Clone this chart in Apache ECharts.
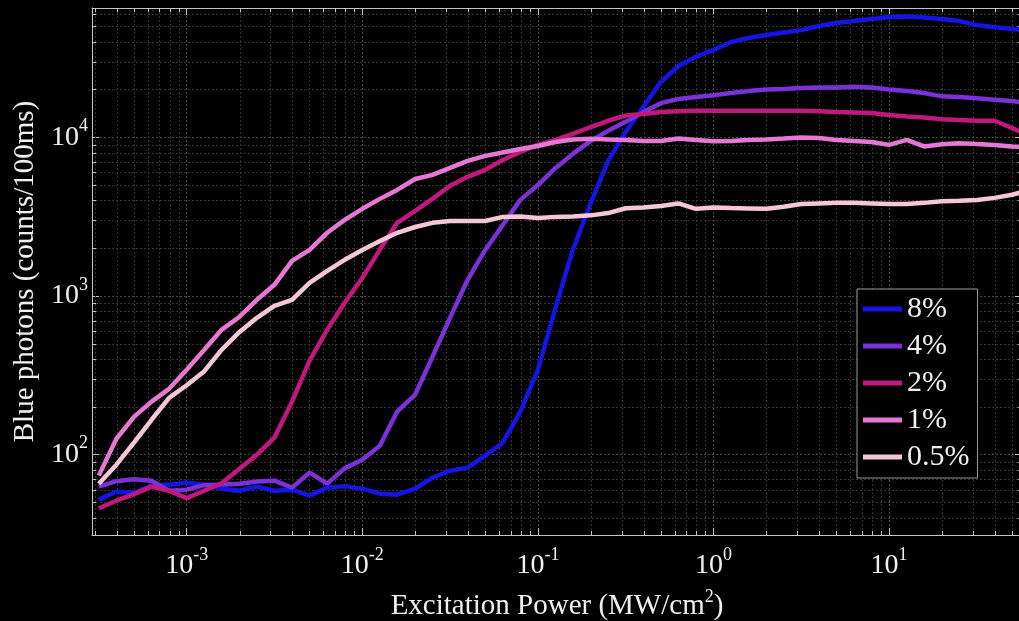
<!DOCTYPE html>
<html>
<head>
<meta charset="utf-8">
<title>Blue photons vs excitation power</title>
<script src="https://cdn.jsdelivr.net/npm/echarts@6/dist/echarts.min.js"></script>
<style>
html, body { margin: 0; padding: 0; background: #000; }
#chart { width: 1019px; height: 621px; }
</style>
</head>
<body>
<div id="chart"></div>
<script>
// excitation power (MW/cm2), shared by all curves
var power = [3.16e-4, 3.98e-4, 5.01e-4, 6.31e-4, 7.94e-4, 1.0e-3, 1.26e-3, 1.58e-3, 2.0e-3, 2.51e-3,
  3.16e-3, 3.98e-3, 5.01e-3, 6.31e-3, 7.94e-3, 1.0e-2, 1.26e-2, 1.58e-2, 2.0e-2, 2.51e-2,
  3.16e-2, 3.98e-2, 5.01e-2, 6.31e-2, 7.94e-2, 0.1, 0.126, 0.158, 0.2, 0.251,
  0.316, 0.398, 0.501, 0.631, 0.794, 1.0, 1.26, 1.58, 2.0, 2.51,
  3.16, 3.98, 5.01, 6.31, 7.94, 10, 12.6, 15.8, 20, 25.1,
  31.6, 39.8, 50.1, 63.1];

// blue photons (counts/100ms)
var p8 = [52.1, 58.5, 57.7, 63.8, 64.8, 66.6, 64.8, 61.1, 59.3, 62.9,
  59.3, 60.2, 55.2, 62.0, 63.4, 61.1, 56.8, 56.0, 61.1, 71.6,
  79.3, 82.9, 98.6, 119, 186, 343, 842, 1950, 3850, 7100,
  10800, 15500, 22300, 28100, 32100, 35500, 39800, 42200, 44100, 45700,
  47300, 50200, 52500, 54000, 55600, 57200, 57600, 56800, 55600, 54000,
  50900, 49400, 48100, 46600];
var p4 = [62.9, 68.1, 70.1, 68.6, 59.3, 60.2, 64.3, 64.8, 65.7, 67.9,
  68.6, 62.0, 77.1, 65.7, 82, 93.0, 114, 187, 239, 414,
  728, 1265, 1950, 2800, 4030, 5000, 6410, 7850, 9490, 10970,
  12500, 14400, 16400, 17400, 17900, 18400, 19000, 19550, 20000, 20150,
  20430, 20600, 20600, 20800, 20600, 20000, 19550, 19000, 18100, 17900,
  17600, 17250, 16900, 16400];
var p2 = [46.0, 51.3, 56.4, 62.9, 59.3, 53.3, 59.3, 66.1, 81.6, 100,
  128, 216, 391, 612, 906, 1300, 1960, 2890, 3440, 4090,
  4940, 5630, 6230, 7190, 8080, 8950, 9620, 10500, 11600, 12700,
  13700, 14000, 14400, 14600, 14700, 14700, 14700, 14700, 14700, 14700,
  14700, 14600, 14400, 14300, 14200, 13800, 13500, 13300, 13000, 12850,
  12700, 12700, 11440, 10200];
var p1 = [73.8, 126, 173, 216, 260, 343, 458, 612, 740, 946,
  1176, 1665, 1950, 2500, 3015, 3540, 4090, 4660, 5460, 5790,
  6410, 7100, 7630, 8020, 8430, 8810, 9340, 9680, 9770, 9680,
  9620, 9480, 9480, 9820, 9620, 9420, 9480, 9620, 9680, 9820,
  9980, 9900, 9620, 9480, 9340, 8950, 9620, 8750, 9020, 9150,
  9080, 8950, 8750, 8630];
var p05 = [65.7, 86.5, 119, 166, 228, 274, 336, 458, 594, 728,
  867, 946, 1210, 1440, 1690, 1950, 2220, 2500, 2720, 2890,
  2970, 2970, 2970, 3150, 3170, 3100, 3150, 3170, 3220, 3330,
  3570, 3610, 3690, 3830, 3540, 3610, 3580, 3560, 3540, 3650,
  3800, 3830, 3860, 3860, 3830, 3800, 3800, 3860, 3950, 3980,
  4030, 4150, 4340, 4660];

var names = ['8%', '4%', '2%', '1%', '0.5%'];
var values = [p8, p4, p2, p1, p05];
var colors = ['#1414e4', '#7b30d8', '#c0187c', '#e678d4', '#f6c6d8'];

var xMin = 2.89e-4, xMax = 57.1;
var yMin = 31.2, yMax = 65200;

var FONT = '"Liberation Serif", "Times New Roman", serif';
var TXT = '#f0f0f0';
var AXIS = '#c4c4c4';

// 2..9 x 10^n positions inside a range, for minor grid and ticks
function minorValues(lo, hi) {
  var out = [];
  for (var d = Math.floor(Math.log10(lo)); d <= Math.ceil(Math.log10(hi)); d++) {
    for (var k = 2; k <= 9; k++) {
      var v = k * Math.pow(10, d);
      if (v > lo && v < hi) out.push(v);
    }
  }
  return out;
}
var minorX = minorValues(xMin, xMax);
var minorY = minorValues(yMin, yMax);

function powLabel(v) {
  var e = Math.round(Math.log10(v));
  return '{b|10}{s|' + e + '}';
}
var labelRich = {
  b: { fontSize: 28, lineHeight: 40, fontFamily: FONT, color: TXT },
  s: { fontSize: 18, lineHeight: 18, verticalAlign: 'top', fontFamily: FONT, color: TXT }
};

function crisp(v) { return Math.round(v) + 0.5; }

var series = [];
series.push({
  type: 'custom', silent: true, z: 1, animation: false,
  data: minorX.map(function (v) { return [v, yMin]; }),
  renderItem: function (params, api) {
    var cs = params.coordSys;
    var x = crisp(api.coord([api.value(0), yMin])[0]);
    var t = cs.y, b = cs.y + cs.height;
    return { type: 'group', children: [
      { type: 'line', shape: { x1: x, y1: t, x2: x, y2: b }, style: { stroke: '#343434', lineWidth: 1, lineDash: [2, 2] } },
      { type: 'line', shape: { x1: x, y1: b, x2: x, y2: b - 4 }, style: { stroke: AXIS, lineWidth: 1 } },
      { type: 'line', shape: { x1: x, y1: t, x2: x, y2: t + 4 }, style: { stroke: AXIS, lineWidth: 1 } }
    ] };
  }
});
series.push({
  type: 'custom', silent: true, z: 1, animation: false,
  data: minorY.map(function (v) { return [xMin, v]; }),
  renderItem: function (params, api) {
    var cs = params.coordSys;
    var y = crisp(api.coord([xMin, api.value(1)])[1]);
    var l = cs.x, r = cs.x + cs.width;
    return { type: 'group', children: [
      { type: 'line', shape: { x1: l, y1: y, x2: r, y2: y }, style: { stroke: '#343434', lineWidth: 1, lineDash: [2, 2] } },
      { type: 'line', shape: { x1: l, y1: y, x2: l + 4, y2: y }, style: { stroke: AXIS, lineWidth: 1 } },
      { type: 'line', shape: { x1: r, y1: y, x2: r - 4, y2: y }, style: { stroke: AXIS, lineWidth: 1 } }
    ] };
  }
});
names.forEach(function (n, i) {
  series.push({
    name: n,
    type: 'line',
    data: power.map(function (x, j) { return [x, values[i][j]]; }),
    symbol: 'none',
    smooth: false,
    z: 3 + i,
    color: colors[i],
    lineStyle: { width: 4.5, color: colors[i] },
    emphasis: { disabled: true }
  });
});

var chart = echarts.init(document.getElementById('chart'));
chart.setOption({
  backgroundColor: '#000',
  animation: false,
  grid: { left: 92, top: 8, right: -3, bottom: 86, containLabel: false, outerBoundsMode: 'none' },
  legend: {
    data: names,
    orient: 'vertical',
    left: 857, top: 289,
    padding: [5, 8, 6, 6],
    itemGap: 7,
    itemWidth: 39, itemHeight: 5,
    icon: 'rect',
    backgroundColor: '#000',
    borderColor: '#9a9a9a', borderWidth: 1, borderRadius: 0,
    textStyle: { color: TXT, fontSize: 30, fontFamily: FONT, lineHeight: 30 },
    selectedMode: false
  },
  xAxis: [{
    type: 'log', min: xMin, max: xMax, position: 'bottom',
    name: '{t|Excitation Power (MW/cm}{s|2}{t|)}',
    nameLocation: 'middle', nameGap: 53,
    nameTextStyle: {
      rich: {
        t: { fontSize: 29, lineHeight: 36, fontFamily: FONT, color: TXT },
        s: { fontSize: 18, lineHeight: 18, verticalAlign: 'top', fontFamily: FONT, color: TXT }
      }
    },
    axisLine: { lineStyle: { color: AXIS, width: 1 } },
    axisTick: { inside: true, length: 7, lineStyle: { color: AXIS } },
    axisLabel: { formatter: powLabel, rich: labelRich, margin: 11, showMinLabel: false, showMaxLabel: false },
    splitLine: { show: true, lineStyle: { color: '#4a4a4a', type: [2, 2] } }
  }, {
    type: 'log', min: xMin, max: xMax, position: 'top',
    axisLine: { lineStyle: { color: AXIS, width: 1 } },
    axisTick: { inside: true, length: 7, lineStyle: { color: AXIS } },
    axisLabel: { show: false },
    splitLine: { show: false }
  }],
  yAxis: [{
    type: 'log', min: yMin, max: yMax, position: 'left',
    name: 'Blue photons (counts/100ms)',
    nameLocation: 'middle', nameGap: 48,
    nameTextStyle: { fontSize: 29, fontFamily: FONT, color: TXT },
    axisLine: { lineStyle: { color: AXIS, width: 1 } },
    axisTick: { inside: true, length: 7, lineStyle: { color: AXIS } },
    axisLabel: { formatter: powLabel, rich: labelRich, margin: 4, showMinLabel: false, showMaxLabel: false },
    splitLine: { show: true, lineStyle: { color: '#4a4a4a', type: [2, 2] } }
  }, {
    type: 'log', min: yMin, max: yMax, position: 'right',
    axisLine: { lineStyle: { color: AXIS, width: 1 } },
    axisTick: { inside: true, length: 7, lineStyle: { color: AXIS } },
    axisLabel: { show: false },
    splitLine: { show: false }
  }],
  series: series
});
</script>
</body>
</html>
